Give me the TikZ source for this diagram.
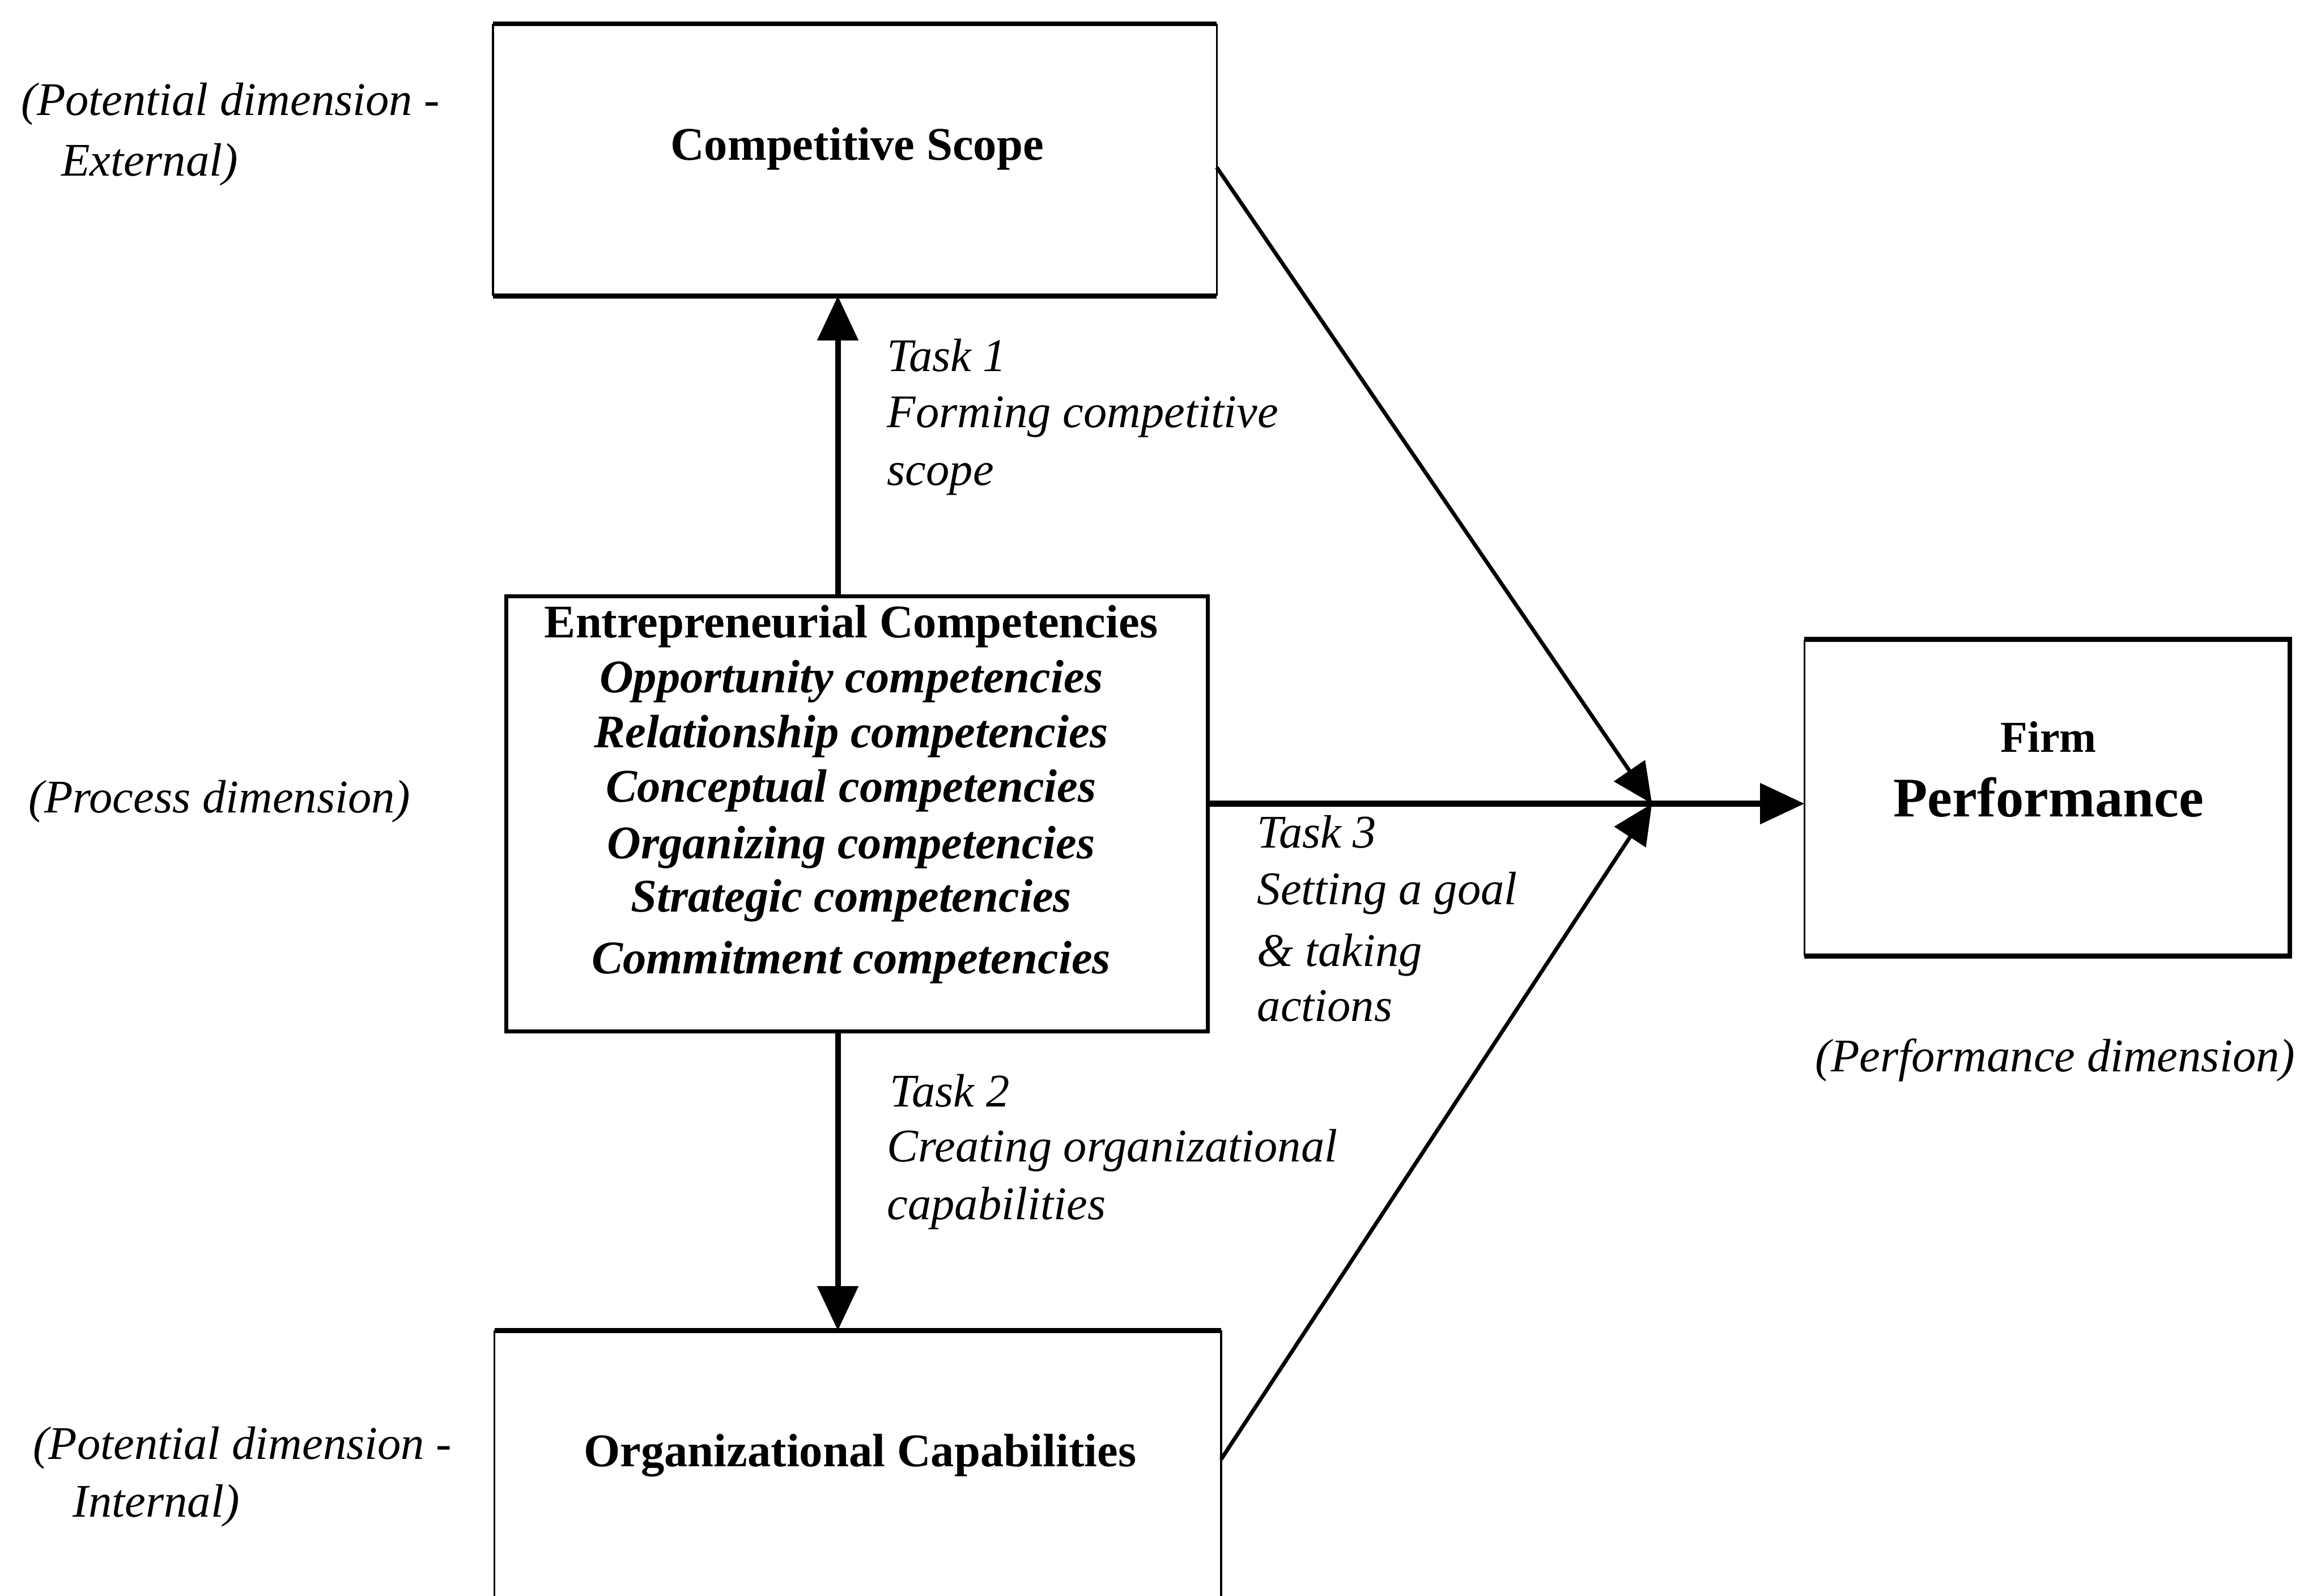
\documentclass[tikz,border=0pt]{standalone}
\usepackage{fontspec}
\setmainfont{Liberation Serif}
\usetikzlibrary{arrows.meta}
\begin{document}
\begin{tikzpicture}[x=0.02cm,y=-0.02cm,
  box/.style={rectangle, inner sep=0pt, outer sep=0pt},
  heavy/.style={line width=1.8pt},
  light/.style={line width=0.7pt},
  medium/.style={line width=1.5pt},
  mainarrow/.style={line width=2.2pt, -{Triangle[length=0.6cm,width=0.54cm]}},
  diagarrow/.style={line width=1.5pt, -{Triangle[length=0.54cm,width=0.5cm]}},
  boxtitle/.style={font=\fontsize{18}{21.5}\selectfont\bfseries, anchor=base, inner sep=0pt},
  comptxt/.style={font=\fontsize{18}{21.5}\selectfont\bfseries\itshape, anchor=base, inner sep=0pt},
  note/.style={font=\fontsize{18}{21.5}\selectfont\itshape, anchor=base west, inner sep=0pt}
]
\fill[white] (0,0) rectangle (1568,1078.35);
\useasboundingbox (0,0) rectangle (1568,1078.35);
\clip (0,0) rectangle (1568,1078.35);

% boxes
\node[box, minimum width=9.78cm, minimum height=3.68cm] (cs) at (577.5,108) {};
\node[box, minimum width=9.48cm, minimum height=5.88cm] (ec) at (579,550) {};
\node[box, minimum width=9.82cm, minimum height=3.70cm] (oc) at (579.5,991.5) {};
\node[box, minimum width=6.56cm, minimum height=4.28cm] (fp) at (1383,539) {};

% competitive scope frame
\draw[heavy] (cs.north west) -- (cs.north east);
\draw[heavy] (cs.south west) -- (cs.south east);
\draw[light] (cs.north west) -- (cs.south west);
\draw[light] (cs.north east) -- (cs.south east);

% entrepreneurial competencies frame
\draw[medium] (ec.north west) rectangle (ec.south east);

% organizational capabilities frame
\draw[heavy] (oc.north west) -- (oc.north east);
\draw[heavy] (oc.south west) -- (oc.south east);
\draw[light] (oc.north west) -- (oc.south west);
\draw[light] (oc.north east) -- (oc.south east);

% firm performance frame
\draw[heavy] (fp.north west) -- (fp.north east) -- (fp.south east) -- (fp.south west);
\draw[line width=0.5pt] (fp.north west) -- (fp.south west);

% connector anchors
\coordinate (ax) at (566,550);
\coordinate (jn) at (1116,543);
\coordinate (cshook) at (822,113);
\coordinate (ochook) at (825,986);

% connectors
\draw[mainarrow] (ax |- ec.north) -- (ax |- cs.south);
\draw[mainarrow] (ax |- ec.south) -- (ax |- oc.north);
\draw[mainarrow] (jn -| ec.east) -- (jn -| fp.west);
\draw[diagarrow] (cshook -| cs.east) -- (jn);
\draw[diagarrow] (ochook -| oc.east) -- (jn);

% box texts
\node[boxtitle] (cst) at (579,108) {Competitive Scope};
\node[boxtitle] (oct) at (581,991) {Organizational Capabilities};
\node[boxtitle] (ec0) at (575,431) {Entrepreneurial Competencies};
\node[comptxt] (ec1) at (575,468) {Opportunity competencies};
\node[comptxt] (ec2) at (575,505) {Relationship competencies};
\node[comptxt] (ec3) at (575,542) {Conceptual competencies};
\node[comptxt] (ec4) at (575,580) {Organizing competencies};
\node[comptxt] (ec5) at (575,616) {Strategic competencies};
\node[comptxt] (ec6) at (575,658) {Commitment competencies};
\node[boxtitle, font=\fontsize{17}{20}\selectfont\bfseries] (fp1) at (1384,508) {Firm};
\node[boxtitle, font=\fontsize{21.5}{25}\selectfont\bfseries] (fp2) at (1384,552) {Performance};

% dimension labels
\node[note] (pe1) at (14,78) {(Potential dimension -};
\node[note] (pe2) at (41,119) {External)};
\node[note] (pp) at (19,549) {(Process dimension)};
\node[note] (pi1) at (22,986) {(Potential dimension -};
\node[note] (pi2) at (49,1025) {Internal)};
\node[note] (pf) at (1226,724) {(Performance dimension)};

% task labels
\node[note] (t1a) at (599,251) {Task 1};
\node[note] (t1b) at (599,289) {Forming competitive};
\node[note] (t1c) at (599,328) {scope};
\node[note] (t2a) at (601,748) {Task 2};
\node[note] (t2b) at (599,785) {Creating organizational};
\node[note] (t2c) at (599,824) {capabilities};
\node[note] (t3a) at (849,573) {Task 3};
\node[note] (t3b) at (849,611) {Setting a goal};
\node[note] (t3c) at (849,653) {\& taking};
\node[note] (t3d) at (849,690) {actions};
\end{tikzpicture}
\end{document}
